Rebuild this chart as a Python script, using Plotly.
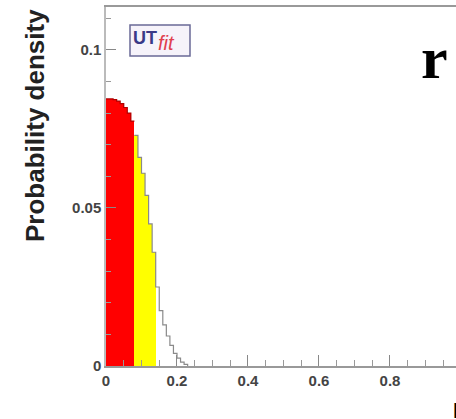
import plotly.graph_objects as go

# ---- data ----
bin_left = [0.00, 0.01, 0.02, 0.03, 0.04, 0.05, 0.06, 0.07, 0.08, 0.09, 0.10, 0.11,
            0.12, 0.13, 0.14, 0.15, 0.16, 0.17, 0.18, 0.19, 0.20, 0.21, 0.22]
density = [0.0845, 0.0845, 0.0843, 0.0838, 0.0830, 0.0818, 0.0800, 0.0775,
           0.0730, 0.0660, 0.0610, 0.0540, 0.0450, 0.0360,
           0.0250, 0.0175, 0.0130, 0.0095, 0.0065, 0.0040, 0.0025, 0.0012, 0.0005]
bin_width = 0.01
red_end = 0.08      # 68% region boundary
yellow_end = 0.14   # 95% region boundary
x_ticks = [0, 0.2, 0.4, 0.6, 0.8]
x_tick_text = ["0", "0.2", "0.4", "0.6", "0.8"]
y_ticks = [0, 0.05, 0.1]
y_tick_text = ["0", "0.05", "0.1"]

# ---- layout geometry ----
W, H = 456, 419
L, T, R, B = 106, 7, 456, 366
pw, ph = R - L, B - T
x_max = 0.986
y_max = 0.1136

def px(x):
    return (x - L) / pw

def py(y):
    return (B - y) / ph

fig = go.Figure()

# filled regions
red_x = [b + bin_width / 2 for b in bin_left if b < red_end - 1e-9]
red_y = [d for b, d in zip(bin_left, density) if b < red_end - 1e-9]
yel_x = [b + bin_width / 2 for b in bin_left if red_end - 1e-9 <= b < yellow_end - 1e-9]
yel_y = [d for b, d in zip(bin_left, density) if red_end - 1e-9 <= b < yellow_end - 1e-9]

fig.add_trace(go.Bar(x=red_x, y=red_y, width=bin_width, marker=dict(color="#ff0000", line=dict(width=0)),
                     hoverinfo="skip", showlegend=False))
fig.add_trace(go.Bar(x=yel_x, y=yel_y, width=bin_width, marker=dict(color="#ffff00", line=dict(width=0)),
                     hoverinfo="skip", showlegend=False))

# outline (step)
def step_segment(lo, hi):
    xs, ys = [], []
    for b, d in zip(bin_left, density):
        if lo - 1e-9 <= b < hi - 1e-9:
            xs.append(b)
            ys.append(d)
    last = xs[-1] + bin_width
    xs.append(last)
    ys.append(ys[-1])
    return xs, ys

sx, sy = step_segment(0, red_end)
fig.add_trace(go.Scatter(x=sx, y=sy, mode="lines", line=dict(color="#b00000", width=1.2, shape="hv"),
                         hoverinfo="skip", showlegend=False))
sx, sy = step_segment(red_end, 1.0)
sx = [red_end] + sx
sy = [density[bin_left.index(red_end)]] + sy
fig.add_trace(go.Scatter(x=sx + [sx[-1]], y=sy + [0], mode="lines",
                         line=dict(color="#8a8a8a", width=1.2, shape="hv"),
                         hoverinfo="skip", showlegend=False))

tickfont = dict(family="Liberation Sans", size=15, color="#444444", weight="bold")

fig.update_layout(
    width=W, height=H,
    margin=dict(l=L, r=W - R, t=T, b=H - B),
    paper_bgcolor="white", plot_bgcolor="white",
    bargap=0, barmode="overlay",
    xaxis=dict(range=[0, x_max], tickvals=x_ticks, ticktext=x_tick_text,
               ticks="inside", ticklen=11, tickcolor="#888888", tickwidth=1,
               minor=dict(ticks="inside", dtick=0.05, ticklen=6, tickcolor="#999999"),
               showline=True, linecolor="#999999", linewidth=1.5, mirror=True,
               showgrid=False, zeroline=False, tickfont=tickfont),
    yaxis=dict(range=[0, y_max], tickvals=y_ticks, ticktext=y_tick_text,
               ticks="inside", ticklen=10, tickcolor="#888888", tickwidth=1,
               minor=dict(ticks="inside", dtick=0.01, ticklen=5, tickcolor="#999999"),
               showline=True, linecolor="#bbbbbb", linewidth=1.5,
               showgrid=False, zeroline=False, tickfont=tickfont),
)

# y-axis title
fig.add_annotation(text="Probability density", xref="paper", yref="paper",
                   x=px(35), y=py(126), textangle=-90, showarrow=False,
                   xanchor="center", yanchor="middle",
                   font=dict(family="Liberation Sans", size=26, color="#222222", weight="bold"))

# big label top right
fig.add_annotation(text="r", xref="paper", yref="paper", x=px(434), y=py(58),
                   xanchor="center", yanchor="middle", showarrow=False,
                   font=dict(family="Liberation Serif", size=60, color="black", weight="bold"))

# x-axis title fragment (cut off at the right edge, as in the reference)
fig.add_annotation(text="R", xref="paper", yref="paper", x=px(451), y=py(410),
                   xanchor="left", yanchor="middle", showarrow=False,
                   font=dict(family="Liberation Sans", size=22, color="black", weight="bold"))

# UTfit logo
fig.add_shape(type="rect", xref="paper", yref="paper", x0=px(130), x1=px(190), y0=py(56), y1=py(25),
              fillcolor="#f6f3fa", line=dict(color="#6a6a96", width=1.5))
fig.add_annotation(text="UT", xref="paper", yref="paper", x=px(145), y=py(38),
                   xanchor="center", yanchor="middle",
                   showarrow=False, font=dict(family="Liberation Sans", size=18, color="#3a3a88", weight="bold"))
fig.add_annotation(text="<i>fit</i>", xref="paper", yref="paper", x=px(166), y=py(43),
                   xanchor="center", yanchor="middle",
                   showarrow=False, font=dict(family="Liberation Sans", size=20, color="#e0404e"))

fig.write_html("out.html")
